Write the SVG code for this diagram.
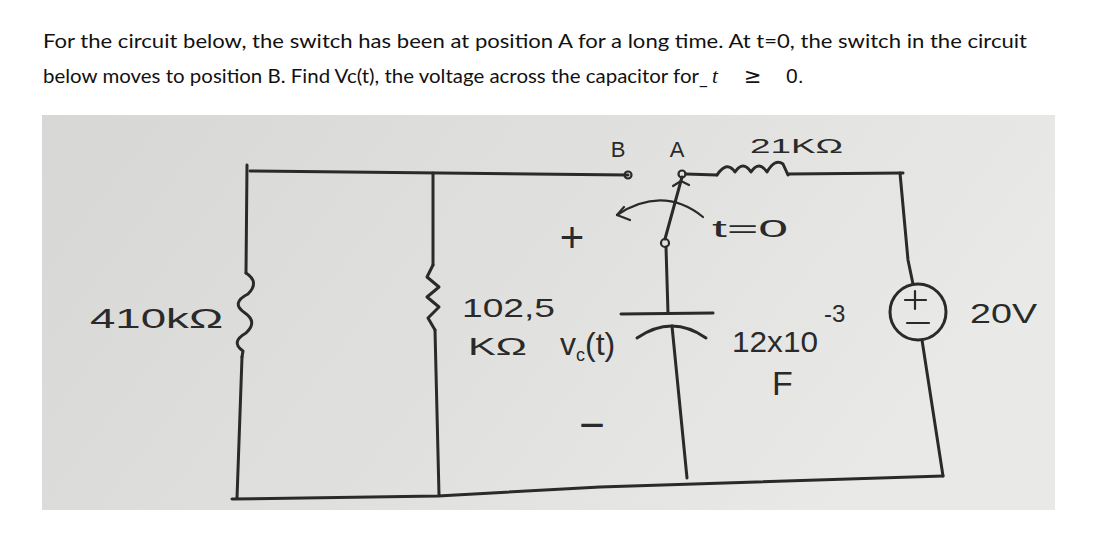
<svg xmlns="http://www.w3.org/2000/svg" width="1114" height="536" viewBox="0 0 1114 536">
<defs>
<linearGradient id="paper" x1="0" y1="0" x2="1" y2="0.3">
<stop offset="0" stop-color="#d7d8d6"/>
<stop offset="0.55" stop-color="#e0e1df"/>
<stop offset="1" stop-color="#e9eae8"/>
</linearGradient>
<style>
.w{stroke:#2a2a2a;stroke-width:3;fill:none;stroke-linecap:round;stroke-linejoin:round}
.t{stroke:#2a2a2a;stroke-width:2.2;fill:none;stroke-linecap:round;stroke-linejoin:round}
.q{font-family:Lato,"Liberation Sans",sans-serif;font-size:19px;fill:#111}
.hw{font-family:"Liberation Sans",Arial,sans-serif;fill:#2a2a2a}
</style>
</defs>
<rect width="1114" height="536" fill="#ffffff"/>
<g id="question">
<text class="q" x="43" y="48" textLength="984" lengthAdjust="spacingAndGlyphs">For the circuit below, the switch has been at position A for a long time. At t=0, the switch in the circuit</text>
<text class="q" x="43" y="83" textLength="656" lengthAdjust="spacingAndGlyphs">below moves to position B. Find Vc(t), the voltage across the capacitor for</text>
<text class="q" x="699" y="84" font-size="12">_</text>
<text x="712" y="83" font-family="'Liberation Serif',serif" font-style="italic" font-size="21" fill="#111">t</text>
<text x="744" y="83" font-family="'DejaVu Sans',sans-serif" font-size="21" fill="#111">≥</text>
<text x="786" y="83" font-family="'Liberation Sans',sans-serif" font-size="21" fill="#111">0.</text>
</g>
<rect id="photo" x="42" y="115" width="1013" height="395" fill="url(#paper)"/>
<g id="connectors">
<path class="w" d="M250,171 L628,175"/>
<path class="w" d="M247,165 L246,273"/>
<path class="w" d="M242,357 L237,498"/>
<path class="w" d="M232,499 L438,496 L600,487 L943,476"/>
<path class="w" d="M433,173 L433,265"/>
<path class="w" d="M435,330 L439,495"/>
<path class="w" d="M686,174 L717,175"/>
<path class="w" d="M788,174 L903,173"/>
<path class="w" d="M900,173 L908,260 L913,284"/>
<path class="w" d="M922,340 L943,476"/>
<path class="w" d="M666,247 L668,313"/>
<path class="w" d="M672,326 L687,478"/>
</g>
<g id="R410k">
<path class="w" d="M246,273 Q260,282 248,294 Q230,303 245,313 Q258,322 246,333 Q230,342 243,351 L242,357"/>
<text class="hw" x="90" y="328" font-size="27" textLength="133" lengthAdjust="spacingAndGlyphs">410kΩ</text>
</g>
<g id="R102k">
<path class="w" d="M433,265 L427,277 L439,287 L427,297 L439,307 L428,318 L435,330"/>
<text class="hw" x="462" y="317" font-size="26" textLength="93" lengthAdjust="spacingAndGlyphs">102,5</text>
<text class="hw" x="468" y="355" font-size="24" textLength="59" lengthAdjust="spacingAndGlyphs">KΩ</text>
</g>
<g id="switch">
<circle class="t" cx="628" cy="175" r="3.5"/>
<circle class="t" cx="682" cy="174" r="3.5"/>
<circle class="t" cx="665" cy="243" r="4"/>
<path class="w" d="M665,239 L682,177"/>
<path class="t" d="M673,186 L681,181 L689,185"/>
<path class="t" d="M703,217 Q663,185 617,215"/>
<path class="t" d="M624,207 L617,215 L630,220"/>
<text class="hw" x="618" y="157" font-size="22" text-anchor="middle">B</text>
<text class="hw" x="677" y="157" font-size="22" text-anchor="middle">A</text>
<text class="hw" x="712" y="237" font-size="24" textLength="76" lengthAdjust="spacingAndGlyphs">t=0</text>
</g>
<g id="R21k">
<path class="w" d="M717,175 Q727,160 735,172 Q743,160 751,172 Q759,160 767,172 Q775,158 783,164 L788,175"/>
<text class="hw" x="750" y="153" font-size="21" textLength="93" lengthAdjust="spacingAndGlyphs">21KΩ</text>
</g>
<g id="capacitor">
<path class="w" d="M621,314 L713,313"/>
<path class="w" d="M637,338 Q672,314 706,338"/>
<text class="hw" x="572" y="252" font-size="42" text-anchor="middle">+</text>
<text class="hw" x="592" y="440" font-size="44" text-anchor="middle">−</text>
<text class="hw" x="560" y="355" font-size="32">v<tspan font-size="18" dy="6">c</tspan><tspan dy="-6">(t)</tspan></text>
<text class="hw" x="732" y="352" font-size="30" textLength="86" lengthAdjust="spacingAndGlyphs">12x10</text>
<text class="hw" x="824" y="322" font-size="24">-3</text>
<text class="hw" x="772" y="395" font-size="34">F</text>
</g>
<g id="source">
<circle class="w" cx="918" cy="312" r="28"/>
<path class="t" d="M905,300 L926,300 M915,291 L915,309"/>
<path class="t" d="M907,323 L929,323"/>
<text class="hw" x="970" y="323" font-size="28" textLength="67" lengthAdjust="spacingAndGlyphs">20V</text>
</g>
</svg>
